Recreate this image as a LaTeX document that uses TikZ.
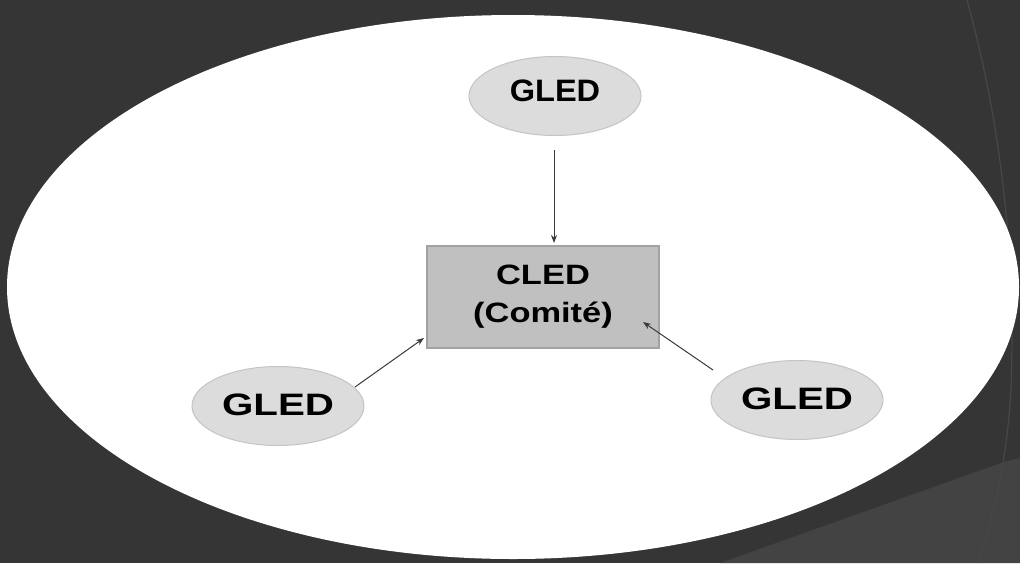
\documentclass[tikz,border=0pt]{standalone}
\usepackage{fontspec}
\setmainfont{Liberation Sans}
\usetikzlibrary{shapes.geometric,arrows.meta}
\definecolor{bg}{HTML}{353535}
\definecolor{bgline}{HTML}{474747}
\definecolor{bglight}{HTML}{434343}
\definecolor{gledfill}{HTML}{DCDCDC}
\definecolor{gledline}{HTML}{C4C4C4}
\definecolor{boxfill}{HTML}{C0C0C0}
\definecolor{boxline}{HTML}{A2A2A2}
\definecolor{arrowc}{HTML}{3A3A3A}
\newcommand{\wide}[2]{\scalebox{#1}[1]{#2}}
\begin{document}
\begin{tikzpicture}[x=1pt,y=-1pt,
  gled/.style={ellipse, draw=gledline, fill=gledfill, line width=1pt,
    minimum width=172pt, minimum height=79pt, inner sep=0pt,
    font=\fontsize{31}{34}\selectfont\bfseries},
  cled/.style={rectangle, draw=boxline, fill=boxfill, line width=1.5pt,
    minimum width=232pt, minimum height=102pt, inner sep=0pt, align=center,
    font=\fontsize{28}{38}\selectfont\bfseries},
  link/.style={draw=arrowc, line width=1pt, -{Stealth[length=8pt,width=6pt]}}]
\useasboundingbox (0,0) rectangle (1020,563);
\fill[bg] (0,0) rectangle (1020,563);
% faint theme shapes
\fill[bglight] (720,563) -- (1004,462) -- (1020,458) -- (1020,563) -- cycle;
\draw[bgline, line width=1.2pt] (967,0) .. controls (1000,120) and (1016,250) .. (1011,390) .. controls (1006,470) and (992,520) .. (978,563);
% main white ellipse
\fill[white] (513,287) ellipse [x radius=506, y radius=272];
% nodes
\node[cled] (c) at (543,297) {\wide{1.23}{CLED}\\\wide{1.23}{(Comité)}};
\node[gled] (t) at (555,96) {\raisebox{11pt}{\wide{1.05}{GLED}}};
\node[gled] (l) at (278,406) {\raisebox{3pt}{\wide{1.3}{GLED}}};
\node[gled] (r) at (797,400) {\raisebox{2pt}{\wide{1.3}{GLED}}};
% connectors
\coordinate (ts) at (554,150);
\coordinate (ls) at (355,387);
\coordinate (rs) at (713,370);
\draw[link] (ts) -- (554,243);
\draw[link] (ls) -- (424,338);
\draw[link] (rs) -- (643,322);
\end{tikzpicture}
\end{document}
